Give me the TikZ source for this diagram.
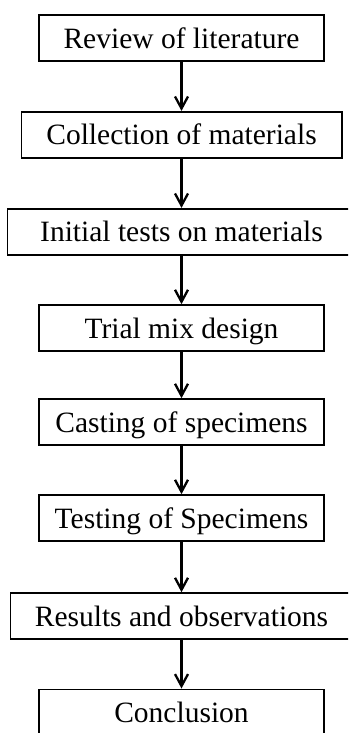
\documentclass[tikz,border=0pt]{standalone}
\usepackage{fontspec}
\setmainfont{Liberation Serif}
\usetikzlibrary{arrows.meta}
\begin{document}
\begin{tikzpicture}[x=1pt,y=1pt,
  stepbox/.style={draw, line width=1.8pt, minimum height=45.8pt, inner sep=0pt,
    text height=20.4pt, text depth=0pt, font=\fontsize{29.5}{34}\selectfont},
  flow/.style={line width=2.3pt, -{Straight Barb[length=12pt,width=13pt,line width=2.3pt]}}]
\useasboundingbox (0,0) rectangle (348,-733);
\clip (0,0) rectangle (348,-733);
\node[stepbox, minimum width=285.2pt] (a) at (181.5,-38) {Review of literature};
\node[stepbox, minimum width=320.2pt] (b) at (181.5,-134.7) {Collection of materials};
\node[stepbox, minimum width=348.2pt] (c) at (181.5,-231.7) {Initial tests on materials};
\node[stepbox, minimum width=285.2pt] (d) at (181.5,-328) {Trial mix design};
\node[stepbox, minimum width=285.2pt] (e) at (181.5,-422) {Casting of specimens};
\node[stepbox, minimum width=285.2pt] (f) at (181.5,-518) {Testing of Specimens};
\node[stepbox, minimum width=342.2pt] (g) at (181.5,-616) {Results and observations};
\node[stepbox, minimum width=285.2pt] (h) at (181.5,-712.3) {Conclusion};
\foreach \p/\q in {a/b,b/c,c/d,d/e,e/f,f/g,g/h}
  \draw[flow] (\p.south) -- (\q.north);
\end{tikzpicture}
\end{document}
